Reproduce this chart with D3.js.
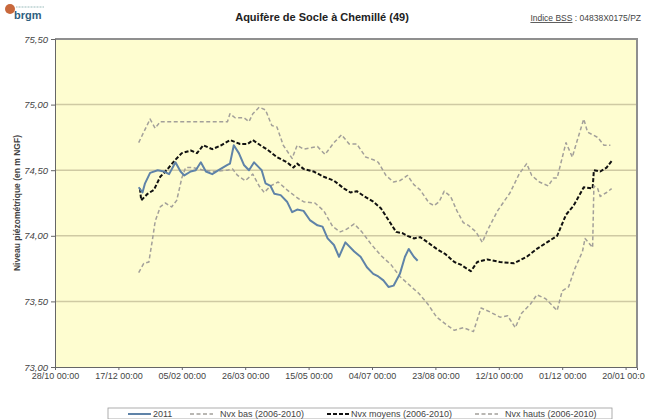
<!DOCTYPE html>
<html>
<head>
<meta charset="utf-8">
<script src="https://cdn.jsdelivr.net/npm/d3@7"></script>
<style>
  body { margin: 0; background: #fff; }
  svg { display: block; font-family: "Liberation Sans", Arial, sans-serif; }
</style>
</head>
<body>
<svg id="chart" width="645" height="419"></svg>
<script>
// axis ticks (50 days apart)
var tickDates = ["2011-10-28", "2011-12-17", "2012-02-05", "2012-03-26", "2012-05-15",
                 "2012-07-04", "2012-08-23", "2012-10-12", "2012-12-01", "2013-01-20"];
var yTicks = [73.00, 73.50, 74.00, 74.50, 75.00, 75.50];

// 2011 levels
var dates2011 = ["2012-01-02","2012-01-05","2012-01-07","2012-01-11","2012-01-17","2012-01-22","2012-01-26","2012-01-31",
  "2012-02-04","2012-02-07","2012-02-12","2012-02-16","2012-02-20","2012-02-24","2012-02-29","2012-03-05","2012-03-12",
  "2012-03-14","2012-03-17","2012-03-21","2012-03-25","2012-03-29","2012-04-02","2012-04-06","2012-04-08","2012-04-11",
  "2012-04-15","2012-04-18","2012-04-23","2012-04-28","2012-05-02","2012-05-06","2012-05-11","2012-05-16","2012-05-22",
  "2012-05-26","2012-05-30","2012-06-04","2012-06-08","2012-06-13","2012-06-20","2012-06-25","2012-06-30","2012-07-05",
  "2012-07-09","2012-07-13","2012-07-17","2012-07-21","2012-07-26","2012-07-30","2012-08-02","2012-08-06","2012-08-09"];
var vals2011 = [74.37,74.33,74.40,74.48,74.50,74.49,74.47,74.56,
  74.49,74.46,74.49,74.50,74.56,74.49,74.47,74.50,74.54,
  74.55,74.69,74.63,74.54,74.50,74.56,74.52,74.50,74.40,
  74.38,74.32,74.31,74.26,74.18,74.20,74.19,74.12,74.08,
  74.07,73.98,73.93,73.84,73.95,73.88,73.84,73.76,73.71,
  73.69,73.66,73.61,73.62,73.71,73.84,73.90,73.84,73.81];

// Nvx bas (2006-2010)
var datesBas = ["2012-01-02","2012-01-06","2012-01-10","2012-01-13","2012-01-15","2012-01-19","2012-01-23","2012-01-28",
  "2012-02-01","2012-02-05","2012-02-08","2012-02-14","2012-02-22","2012-03-01","2012-03-12","2012-03-16","2012-03-20",
  "2012-03-26","2012-04-01","2012-04-06","2012-04-10","2012-04-15","2012-04-21","2012-04-28","2012-05-06","2012-05-11",
  "2012-05-20","2012-05-27","2012-06-03","2012-06-09","2012-06-14","2012-06-20","2012-06-26","2012-07-03","2012-07-11",
  "2012-07-19","2012-07-26","2012-08-03","2012-08-10","2012-08-17","2012-08-24","2012-09-01","2012-09-07","2012-09-14",
  "2012-09-22","2012-09-28","2012-10-05","2012-10-13","2012-10-19","2012-10-25","2012-10-30","2012-11-06","2012-11-11",
  "2012-11-18","2012-11-27","2012-12-01","2012-12-06","2012-12-11","2012-12-17","2012-12-19","2012-12-25","2012-12-26",
  "2012-12-29","2012-12-31","2013-01-05","2013-01-09"];
var valsBas = [73.72,73.79,73.80,73.98,74.11,74.22,74.25,74.22,
  74.27,74.44,74.52,74.52,74.50,74.49,74.50,74.51,74.46,
  74.42,74.47,74.38,74.33,74.38,74.41,74.35,74.29,74.26,
  74.25,74.19,74.07,74.03,74.05,74.09,74.03,73.94,73.85,
  73.78,73.69,73.62,73.56,73.48,73.38,73.32,73.28,73.30,
  73.27,73.45,73.42,73.38,73.39,73.30,73.41,73.48,73.55,
  73.52,73.43,73.58,73.61,73.75,73.88,73.98,73.91,74.38,
  74.36,74.30,74.33,74.36];

// Nvx moyens (2006-2010)
var datesMoy = ["2012-01-03","2012-01-04","2012-01-09","2012-01-14","2012-01-19","2012-01-24","2012-01-31","2012-02-05",
  "2012-02-12","2012-02-17","2012-02-22","2012-02-29","2012-03-07","2012-03-14","2012-03-22","2012-03-28","2012-04-01",
  "2012-04-07","2012-04-12","2012-04-20","2012-04-28","2012-05-03","2012-05-06","2012-05-11","2012-05-19","2012-05-27",
  "2012-06-04","2012-06-12","2012-06-17","2012-06-22","2012-06-28","2012-07-05","2012-07-11","2012-07-17","2012-07-23",
  "2012-07-28","2012-08-01","2012-08-06","2012-08-11","2012-08-17","2012-08-24","2012-08-31","2012-09-07","2012-09-12",
  "2012-09-20","2012-09-25","2012-10-03","2012-10-13","2012-10-24","2012-11-03","2012-11-11","2012-11-19","2012-11-27",
  "2012-12-04","2012-12-10","2012-12-18","2012-12-25","2012-12-26","2012-12-31","2013-01-05","2013-01-09"];
var valsMoy = [74.36,74.27,74.32,74.35,74.45,74.50,74.58,74.63,
  74.65,74.63,74.69,74.66,74.69,74.73,74.70,74.70,74.73,
  74.69,74.66,74.60,74.56,74.52,74.55,74.51,74.49,74.45,
  74.42,74.36,74.33,74.34,74.30,74.26,74.21,74.12,74.03,
  74.02,74.00,73.98,73.99,73.95,73.90,73.86,73.80,73.78,
  73.73,73.80,73.82,73.80,73.79,73.84,73.90,73.95,74.00,
  74.16,74.23,74.37,74.36,74.50,74.49,74.52,74.57];

// Nvx hauts (2006-2010)
var datesHaut = ["2012-01-02","2012-01-11","2012-01-15","2012-01-19","2012-03-12","2012-03-14","2012-03-18","2012-03-25",
  "2012-03-29","2012-04-01","2012-04-06","2012-04-11","2012-04-16","2012-04-20","2012-04-25","2012-05-02","2012-05-06",
  "2012-05-11","2012-05-22","2012-05-28","2012-06-04","2012-06-10","2012-06-16","2012-06-22","2012-06-29","2012-07-05",
  "2012-07-09","2012-07-15","2012-07-21","2012-07-26","2012-08-01","2012-08-06","2012-08-11","2012-08-18","2012-08-22",
  "2012-08-26","2012-08-30","2012-09-04","2012-09-09","2012-09-14","2012-09-18","2012-09-24","2012-09-29","2012-10-03",
  "2012-10-11","2012-10-21","2012-10-28","2012-11-03","2012-11-07","2012-11-13","2012-11-20","2012-11-24","2012-11-27",
  "2012-12-04","2012-12-09","2012-12-12","2012-12-18","2012-12-21","2012-12-29","2013-01-03","2013-01-08"];
var valsHaut = [74.71,74.89,74.82,74.87,74.87,74.93,74.90,74.90,
  74.87,74.93,74.98,74.96,74.84,74.83,74.69,74.59,74.69,
  74.66,74.68,74.62,74.71,74.77,74.70,74.70,74.60,74.58,
  74.56,74.46,74.41,74.42,74.46,74.39,74.35,74.25,74.23,
  74.26,74.34,74.30,74.19,74.10,74.08,74.03,73.95,74.04,
  74.19,74.33,74.47,74.55,74.46,74.41,74.38,74.44,74.44,
  74.71,74.60,74.70,74.89,74.79,74.75,74.69,74.69];

var parse = d3.utcParse("%Y-%m-%d");
function zipSeries(ds, vs) { return ds.map(function (d, i) { return { date: parse(d), value: vs[i] }; }); }

var series = [
  { name: "2011", data: zipSeries(dates2011, vals2011), color: "#5f83a8", width: 2, dash: null },
  { name: "Nvx bas (2006-2010)", data: zipSeries(datesBas, valsBas), color: "#a3a09a", width: 1.5, dash: "4,2.5" },
  { name: "Nvx moyens (2006-2010)", data: zipSeries(datesMoy, valsMoy), color: "#111", width: 2, dash: "4,2" },
  { name: "Nvx hauts (2006-2010)", data: zipSeries(datesHaut, valsHaut), color: "#a3a09a", width: 1.5, dash: "4,2.5" }
];

var svg = d3.select("#chart");
var plotL = 55, plotR = 637, plotT = 39, plotB = 367;

var x = d3.scaleUtc()
  .domain([parse("2011-10-28"), parse("2013-01-29")])
  .range([plotL, plotR]);
var y = d3.scaleLinear()
  .domain([73, 75.5])
  .range([plotB, plotT]);

// plot background
svg.append("rect")
  .attr("x", plotL).attr("y", plotT)
  .attr("width", plotR - plotL).attr("height", plotB - plotT)
  .attr("fill", "#fefdd0");

// gridlines
svg.append("g")
  .selectAll("line")
  .data(yTicks.slice(1, -1))
  .enter().append("line")
  .attr("x1", plotL).attr("x2", plotR)
  .attr("y1", d => y(d)).attr("y2", d => y(d))
  .attr("stroke", "#cfcaa3").attr("stroke-width", 1.5);

// frame top and right
svg.append("path")
  .attr("d", "M" + plotL + "," + plotT + "H" + plotR + "V" + plotB)
  .attr("fill", "none").attr("stroke", "#8f8f8f").attr("stroke-width", 2);

// lines
var line = d3.line().x(d => x(d.date)).y(d => y(d.value));
svg.append("g")
  .selectAll("path")
  .data(series.slice().reverse())
  .enter().append("path")
  .attr("d", d => line(d.data))
  .attr("fill", "none")
  .attr("stroke", d => d.color)
  .attr("stroke-width", d => d.width)
  .attr("stroke-dasharray", d => d.dash)
  .attr("stroke-linejoin", "round");

// axes
var fmtY = v => d3.format(".2f")(v).replace(".", ",");
var yAxis = svg.append("g")
  .attr("transform", "translate(" + plotL + ",0)")
  .call(d3.axisLeft(y).tickValues(yTicks).tickFormat(fmtY).tickSize(4).tickPadding(3));
yAxis.select(".domain").attr("stroke", "#666");
yAxis.selectAll(".tick line").attr("stroke", "#666");
yAxis.selectAll("text").attr("font-size", 9.5).attr("font-style", "italic").attr("fill", "#444")
  .attr("font-family", "Liberation Sans, Arial, sans-serif");

var fmtX = d3.utcFormat("%d/%m %H:%M");
var xAxis = svg.append("g")
  .attr("transform", "translate(0," + plotB + ")")
  .call(d3.axisBottom(x).tickValues(tickDates.map(parse)).tickFormat(fmtX).tickSize(3).tickPadding(3));
xAxis.select(".domain").attr("stroke", "#666");
xAxis.selectAll(".tick line").attr("stroke", "#666");
xAxis.selectAll("text").attr("font-size", 9).attr("fill", "#444")
  .attr("font-family", "Liberation Sans, Arial, sans-serif");

// y title
svg.append("text")
  .attr("transform", "translate(20," + ((plotT + plotB) / 2) + ") rotate(-90)")
  .attr("text-anchor", "middle")
  .attr("font-size", 8.5).attr("font-weight", "bold").attr("fill", "#444")
  .text("Niveau piézométrique (en m NGF)");

// title
svg.append("text")
  .attr("x", 322).attr("y", 21)
  .attr("text-anchor", "middle")
  .attr("font-size", 11).attr("font-weight", "bold").attr("fill", "#222")
  .text("Aquifère de Socle à Chemillé (49)");

var bss = svg.append("text")
  .attr("x", 641).attr("y", 21)
  .attr("text-anchor", "end")
  .attr("font-size", 8.5).attr("fill", "#444");
bss.append("tspan").attr("text-decoration", "underline").text("Indice BSS");
bss.append("tspan").text(" : 04838X0175/PZ");

// logo
svg.append("circle").attr("cx", 10).attr("cy", 9).attr("r", 5).attr("fill", "#c8683c");
svg.append("text").attr("x", 14).attr("y", 19)
  .attr("font-size", 11).attr("font-weight", "bold").attr("fill", "#2f5f7f")
  .text("brgm");
svg.append("line").attr("x1", 16).attr("x2", 44).attr("y1", 7).attr("y2", 7)
  .attr("stroke", "#9bb").attr("stroke-width", 1).attr("stroke-dasharray", "1,0.5");

// legend
var legend = svg.append("g");
legend.append("rect")
  .attr("x", 108).attr("y", 408).attr("width", 504).attr("height", 11)
  .attr("fill", "#fff").attr("stroke", "#999").attr("stroke-width", 0.8);
var legX = [128, 190, 327, 475];
var item = legend.selectAll("g")
  .data(series)
  .enter().append("g")
  .attr("transform", (d, i) => "translate(" + legX[i] + ",414)");
item.append("line")
  .attr("x1", 0).attr("x2", 23)
  .attr("stroke", d => d.color)
  .attr("stroke-width", d => d.width)
  .attr("stroke-dasharray", d => d.dash);
item.append("text")
  .attr("x", (d, i) => i === 2 ? 24 : (i === 0 ? 25 : 30))
  .attr("y", 3)
  .attr("font-size", 9).attr("fill", "#444")
  .text(d => d.name);
</script>
</body>
</html>
